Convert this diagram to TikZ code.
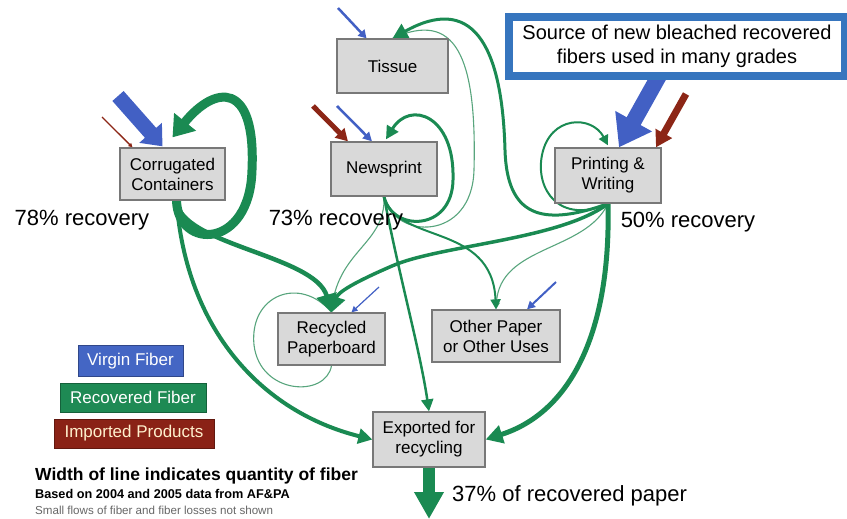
\documentclass[tikz,border=0pt]{standalone}
\usepackage{fontspec}
\setmainfont{Liberation Sans}
\usetikzlibrary{arrows.meta,calc}
\pgfdeclarelayer{bg}
\pgfsetlayers{bg,main}
\definecolor{rgreen}{RGB}{26,138,82}
\definecolor{lgreen}{RGB}{88,165,125}
\definecolor{vblue}{RGB}{66,96,196}
\definecolor{ibrown}{RGB}{140,38,22}
\definecolor{boxfill}{RGB}{217,217,217}
\definecolor{boxline}{RGB}{120,120,120}
\definecolor{srcblue}{RGB}{54,117,190}
\definecolor{legblue}{RGB}{68,102,196}
\definecolor{leggreen}{RGB}{30,138,84}
\definecolor{legred}{RGB}{138,34,22}
\definecolor{cream}{RGB}{255,240,205}
\begin{document}
\begin{tikzpicture}[x=1pt,y=-1pt,
  box/.style={draw=boxline, fill=boxfill, line width=1.3pt, inner sep=0pt, align=center, font=\fontsize{17}{20}\selectfont},
  flow/.style={draw=rgreen, line cap=butt},
  fthin/.style={draw=lgreen, line width=1.1pt},
  bigtext/.style={inner sep=0pt, font=\fontsize{22}{26}\selectfont},
  leg/.style={inner sep=0pt, line width=0.8pt, font=\fontsize{17}{20}\selectfont}
]
\useasboundingbox (0,0) rectangle (847,519);

% boxes
\node[box, minimum width=111pt, minimum height=54pt] (tissue) at (392.5,66) {Tissue};
\node[box, minimum width=106pt, minimum height=54pt] (news) at (384,169) {Newsprint};
\node[box, minimum width=105pt, minimum height=52pt] (cc) at (172.5,174) {Corrugated\\Containers};
\node[box, minimum width=106pt, minimum height=55pt] (pw) at (608,175.5) {Printing \&\\Writing};
\node[box, minimum width=107pt, minimum height=52pt] (rp) at (331.5,339) {Recycled\\Paperboard};
\node[box, minimum width=128pt, minimum height=52pt] (op) at (496,336) {Other Paper\\or Other Uses};
\node[box, minimum width=112pt, minimum height=55pt] (ex) at (429,439.5) {Exported for\\recycling};

\node[draw=srcblue, line width=8pt, fill=white, minimum width=336pt, minimum height=59pt,
      inner sep=0pt, align=center, font=\fontsize{20}{24}\selectfont] (src) at (677,46.5)
      {Source of new bleached recovered\\fibers used in many grades};

% recovery labels
\node[bigtext] (l78) at (82,220) {78\% recovery};
\node[bigtext] (l73) at (336,220) {73\% recovery};
\node[bigtext] (l50) at (688,222) {50\% recovery};
\node[bigtext, anchor=west] (l37) at (452,496) {37\% of recovered paper};

% legend
\node[leg, fill=legblue, draw=legblue!70!black, minimum width=105pt, minimum height=31pt, text=white] (lv) at (130.5,361) {Virgin Fiber};
\node[leg, fill=leggreen, draw=leggreen!70!black, minimum width=146pt, minimum height=29pt, text=white] (lr) at (133,397.5) {Recovered Fiber};
\node[leg, fill=legred, draw=legred!70!black, minimum width=160pt, minimum height=29pt, text=cream] (li) at (134,433.5) {Imported Products};

\node[anchor=west, inner sep=0pt, font=\bfseries\fontsize{17.5}{20}\selectfont] (n1) at (35,476) {Width of line indicates quantity of fiber};
\node[anchor=west, inner sep=0pt, font=\bfseries\fontsize{12.7}{15}\selectfont] (n2) at (35,494) {Based on 2004 and 2005 data from AF\&PA};
\node[anchor=west, inner sep=0pt, text=black!60, font=\fontsize{11.6}{14}\selectfont] (n3) at (35,510) {Small flows of fiber and fiber losses not shown};

% free ends
\coordinate (vcc) at (118,96);
\coordinate (icc) at (102,117);
\coordinate (vts) at (338,8);
\coordinate (ins) at (313,106);
\coordinate (vns) at (337,106);
\coordinate (vpw) at (660,74);
\coordinate (ipw) at (686,94);
\coordinate (vrp) at (379,287);
\coordinate (vop) at (556,282);
\coordinate (outend) at (429,519);

\begin{pgfonlayer}{bg}
% thin light flows
\draw[fthin] (news.south) .. controls (394,240) and (472,242) .. (474,170) .. controls (477,55) and (455,10) .. (tissue.north);
\draw[fthin] (news.south) .. controls (386,245) and (336,250) .. (rp.north);
\draw[fthin] (rp.south) .. controls (326,398) and (260,395) .. (254,345) .. controls (249,295) and (300,275) .. (rp.north);
\draw[fthin, -{Triangle[length=7pt,width=7pt]}] (pw.south) .. controls (585,252) and (500,245) .. (op.north);

% corrugated
\draw[flow, line width=4pt, -{Triangle[length=14pt,width=15pt]}] ($(cc.south)+(4,0)$) .. controls (186,330) and (262,412) .. (ex.west);
\draw[flow, line width=4.5pt, -{Triangle[length=18pt,width=20pt]}] ($(cc.south)+(4,0)$) .. controls (180,245) and (315,255) .. (rp.north);
\draw[flow, line width=9pt, -{Triangle[length=20pt,width=27pt]}] ($(cc.south)+(4,0)$) .. controls (178,250) and (250,250) .. (252,170) .. controls (256,80) and (215,85) .. ($(cc.north)+(0,-10)$);

% newsprint
\draw[flow, line width=3pt, -{Triangle[length=13pt,width=13pt]}] (news.south) .. controls (392,232) and (452,232) .. (453,180) .. controls (455,115) and (410,100) .. ($(news.north)+(2,-2)$);
\draw[flow, line width=2pt, -{Triangle[length=10pt,width=10pt]}] (news.south) .. controls (398,245) and (492,222) .. (op.north);
\draw[flow, line width=2.5pt, -{Triangle[length=12pt,width=12pt]}] (news.south) .. controls (400,280) and (420,350) .. (ex.north);

% printing & writing
\draw[flow, line width=3pt, -{Triangle[length=15pt,width=16pt]}] (pw.south) .. controls (540,228) and (507,215) .. (505,150) .. controls (502,40) and (470,-5) .. (tissue.north);
\draw[flow, line width=2pt, -{Triangle[length=10pt,width=10pt]}] (pw.south) .. controls (560,225) and (535,190) .. (542,155) .. controls (550,115) and (592,115) .. ($(pw.north)+(0,-2)$);
\draw[flow, line width=3.5pt, -{Triangle[length=16pt,width=18pt]}] (pw.south) .. controls (560,240) and (440,245) .. (392,266) .. controls (355,282) and (338,292) .. (rp.north);
\draw[flow, line width=5pt, -{Triangle[length=17pt,width=18pt]}] (pw.south) .. controls (611,330) and (572,412) .. (ex.east);

% export
\draw[flow, line width=12pt, -{Triangle[length=27pt,width=28pt]}] (ex.south) -- (outend);

% virgin and imported inputs
\draw[vblue, line width=15pt, -{Triangle[length=18pt,width=29pt]}] (vcc) -- ($(cc.north)+(-10,-1)$);
\draw[ibrown, line width=1.3pt, -{Triangle[length=4pt,width=4pt]}] (icc) -- ($(cc.north)+(-40,0)$);
\draw[vblue, line width=2.5pt, -{Triangle[length=8pt,width=9pt]}] (vts) -- ($(tissue.north)+(-26,0)$);
\draw[ibrown, line width=5pt, -{Triangle[length=12pt,width=13pt]}] (ins) -- ($(news.north)+(-36,0)$);
\draw[vblue, line width=2.5pt, -{Triangle[length=9pt,width=9pt]}] (vns) -- ($(news.north)+(-12,0)$);
\draw[vblue, line width=16pt, -{Triangle[length=30pt,width=40pt]}] (vpw) -- ($(pw.north)+(11,0)$);
\draw[ibrown, line width=7pt, -{Triangle[length=16pt,width=18pt]}] (ipw) -- ($(pw.north)+(48,0)$);
\draw[vblue, line width=1.2pt, -{Triangle[length=6pt,width=6pt]}] (vrp) -- ($(rp.north)+(20,0)$);
\draw[vblue, line width=2pt, -{Triangle[length=8pt,width=8pt]}] (vop) -- ($(op.north)+(31,0)$);
\end{pgfonlayer}
\end{tikzpicture}
\end{document}
